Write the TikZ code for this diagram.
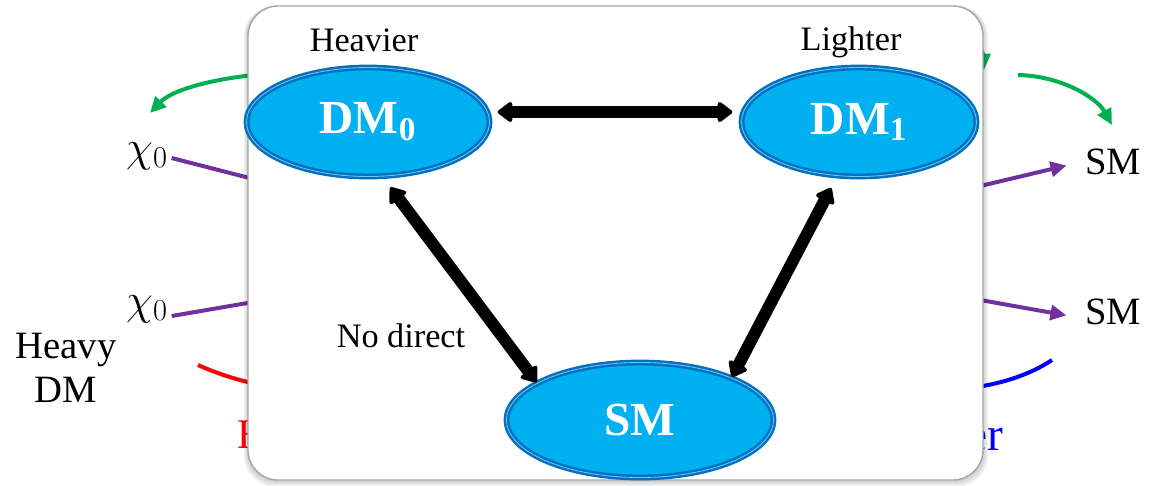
\documentclass[tikz,border=0pt]{standalone}
\usepackage{fontspec}
\setmainfont{Liberation Serif}
\usetikzlibrary{shapes.geometric,arrows.meta,calc}

\definecolor{dmfill}{RGB}{0,176,240}
\definecolor{dmedge}{RGB}{0,112,192}
\definecolor{dmline}{RGB}{110,195,240}
\definecolor{decaygreen}{RGB}{0,176,80}
\definecolor{decaypurple}{RGB}{112,48,160}

\tikzset{
  species/.style={ellipse,fill=dmfill,draw=dmedge,line width=1.4pt,
    double=dmline,double distance=0.5pt,
    text=white,font=\fontsize{27}{30}\selectfont\bfseries,inner sep=0pt},
  conv/.style={{Triangle[length=0.32cm,width=0.46cm,round]}-{Triangle[length=0.32cm,width=0.46cm,round]},
    line width=0.24cm},
  flow/.style={-{Triangle[length=0.32cm,width=0.3cm]},line width=0.08cm},
  lbl/.style={font=\fontsize{19.5}{23}\selectfont},
  outer/.style={font=\fontsize{22}{25}\selectfont,inner sep=2pt},
}

\begin{document}
\begin{tikzpicture}[x=0.02cm,y=-0.02cm]
  \useasboundingbox (0,0) rectangle (1150,485);

  % behind the panel
  \node[outer,font=\fontsize{26}{28}\selectfont] (chiA) at (147,156) {$\chi_0$};
  \node[outer,font=\fontsize{26}{28}\selectfont] (chiB) at (147,309) {$\chi_0$};
  \node[outer,align=center] (heavy) at (66,368) {Heavy\\DM};
  \node[outer] (smA) at (1113,162) {SM};
  \node[outer] (smB) at (1113,312) {SM};
  \node[red,anchor=base west,inner sep=0pt,font=\fontsize{24}{28}\selectfont] (heavier) at (237,448) {Heavier};
  \node[blue,anchor=base east,inner sep=0pt,font=\fontsize{27}{30}\selectfont] (lighter) at (1004,450) {Lighter};

  \coordinate (pA) at (300,191);
  \coordinate (pB) at (300,294);
  \coordinate (qA) at (930,198);
  \coordinate (qB) at (930,291);
  \draw[decaypurple,line width=0.08cm] ([yshift=-0.04cm]chiA.east) -- (pA);
  \draw[decaypurple,line width=0.08cm] ([yshift=-0.14cm]chiB.east) -- (pB);
  \draw[flow,decaypurple,shorten >=0.3cm] (qA) -- (smA.west);
  \draw[flow,decaypurple,shorten >=0.3cm] (qB) -- ([yshift=-0.12cm]smB.west);

  \coordinate (gLs) at (290,72);
  \coordinate (gLe) at (150,113);
  \coordinate (gRs) at (1018,75);
  \coordinate (gRe) at (1112,125);
  \coordinate (gTs) at (880,25);
  \coordinate (gTe) at (984,70);
  \draw[flow,decaygreen] (gLs) .. controls (215,76) and (172,90) .. (gLe);
  \draw[flow,decaygreen] (gRs) .. controls (1062,76) and (1097,98) .. (gRe);
  \draw[flow,decaygreen] (gTs) .. controls (950,25) and (982,40) .. (gTe);

  \coordinate (rA) at (198,365);
  \coordinate (rB) at (300,391);
  \coordinate (bA) at (930,391);
  \coordinate (bB) at (1052,360);
  \draw[red,line width=0.08cm] (rA) .. controls (225,377) and (255,386) .. (rB);
  \draw[blue,line width=0.08cm] (bA) .. controls (985,390) and (1025,378) .. (bB);

  % panel
  \foreach \s in {1,...,4}
    \fill[black,opacity=0.05,rounded corners=0.6cm] (248-\s,6) rectangle (983+1.2*\s,480+1.6*\s);
  \fill[white,draw=gray!70,line width=0.8pt,rounded corners=0.6cm] (248,6) rectangle (983,480);

  % inside
  \node[lbl] (heavierlbl) at (364,40) {Heavier};
  \node[lbl] (lighterlbl) at (851,42) {Lighter};
  \node[species,minimum width=4.86cm,minimum height=2.18cm] (DM0) at (368,122) {DM\textsubscript{0}};
  \node[species,minimum width=4.7cm,minimum height=2.18cm] (DM1) at (859,122) {DM\textsubscript{1}};
  \node[species,minimum width=5.34cm,minimum height=2.3cm] (SM) at (640,420) {SM};
  \node[lbl] (nodirect) at (401,336) {No direct};

  \draw[conv,shorten <=0.14cm,shorten >=0.16cm] ([yshift=0.2cm]DM0.east) -- ([yshift=0.2cm]DM1.west);
  \draw[conv,shorten <=0.25cm] (DM0.-75) -- (SM.160);
  \draw[conv,shorten <=0.25cm] (DM1.-112) -- (SM.25);
\end{tikzpicture}
\end{document}
